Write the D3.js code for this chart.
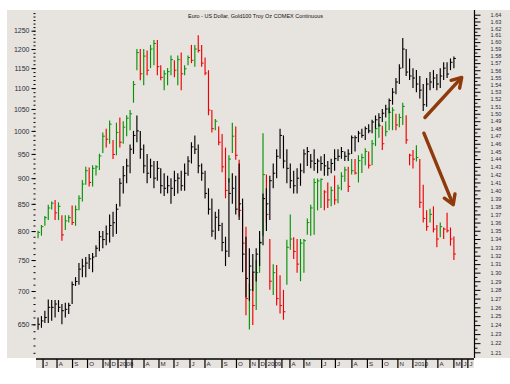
<!DOCTYPE html>
<html>
<head>
<meta charset="utf-8">
<script src="https://cdn.jsdelivr.net/npm/d3@7"></script>
<style>
  body { margin: 0; background: #fff; }
  svg { display: block; font-family: "Liberation Sans", Arial, sans-serif; }
</style>
</head>
<body>
<svg width="510" height="384"></svg>
<script>
// weekly gold bars (left axis)
const goldHigh = [660,662,670,687,686,686,686,680,682,682,715,722,745,752,755,760,762,775,800,800,
  810,830,835,850,900,925,940,970,1000,1035,1000,970,950,940,935,935,920,910,905,900,
  915,910,915,930,945,975,990,970,930,915,880,860,835,840,815,790,900,910,905,930,
  860,790,770,760,770,800,870,880,905,930,960,1005,990,960,930,915,920,930,960,965,
  950,960,940,945,950,935,940,960,960,965,955,960,990,990,1000,1005,1010,1015,1025,1035,
  1040,1050,1060,1075,1100,1125,1160,1230,1200,1175,1150,1145,1130,1110,1125,1140,1145,1135,1150,1165,
  1165,1175,1180]
const goldLow = [642,645,652,652,655,660,668,650,660,665,680,708,710,722,722,735,730,755,765,770,
  775,780,790,795,845,870,890,910,950,975,940,910,890,900,880,895,870,865,870,850,
  865,870,875,875,905,930,950,910,895,860,830,790,785,800,765,740,755,850,830,820,
  730,690,685,700,715,740,775,800,820,880,900,940,920,890,880,870,870,885,910,925,
  920,915,910,915,905,905,910,915,935,940,935,935,950,955,975,985,980,995,995,1005,
  1010,1020,1030,1040,1060,1085,1110,1150,1130,1120,1100,1090,1075,1045,1055,1095,1100,1095,1100,1120,
  1125,1145,1150]
const goldClose = [650,655,660,675,675,680,675,670,672,678,710,715,735,740,745,752,755,770,790,785,
  795,810,815,840,890,905,925,960,990,1000,960,925,910,925,900,920,885,880,885,880,
  895,900,885,910,935,965,960,925,910,870,840,800,825,810,780,765,870,880,840,850,
  760,720,740,730,760,780,860,850,895,910,945,990,935,920,895,885,900,915,950,955,
  935,930,935,930,925,920,930,940,945,955,945,950,985,985,995,990,1005,1000,1020,1025,
  1030,1040,1050,1070,1090,1115,1150,1200,1140,1130,1125,1110,1095,1060,1110,1115,1125,1110,1130,1150,
  1135,1165,1175]

// weekly euro / dollar bars (right axis)
const eurHigh = [1.350,1.357,1.368,1.382,1.386,1.388,1.385,1.369,1.369,1.369,1.381,1.381,1.394,1.413,1.430,1.429,1.432,1.432,1.447,1.475,
  1.480,1.491,1.465,1.488,1.495,1.490,1.498,1.505,1.545,1.590,1.590,1.590,1.588,1.596,1.603,1.603,1.567,1.560,1.563,1.581,
  1.574,1.581,1.585,1.567,1.581,1.596,1.596,1.610,1.596,1.578,1.560,1.505,1.493,1.483,1.473,1.455,1.445,1.488,1.483,1.439,
  1.380,1.355,1.287,1.300,1.315,1.340,1.474,1.420,1.340,1.310,1.309,1.297,1.280,1.339,1.370,1.342,1.340,1.340,1.340,1.365,
  1.382,1.415,1.415,1.415,1.400,1.410,1.405,1.419,1.407,1.423,1.430,1.430,1.440,1.440,1.445,1.447,1.454,1.450,1.465,1.484,
  1.487,1.484,1.490,1.508,1.509,1.500,1.500,1.515,1.498,1.447,1.452,1.458,1.440,1.407,1.375,1.377,1.380,1.357,1.360,1.354,
  1.372,1.354,1.343]
const eurLow = [1.341,1.344,1.356,1.363,1.376,1.363,1.363,1.338,1.351,1.360,1.357,1.356,1.375,1.386,1.407,1.405,1.405,1.419,1.426,1.448,
  1.455,1.460,1.440,1.445,1.455,1.460,1.470,1.478,1.515,1.560,1.546,1.539,1.553,1.563,1.567,1.553,1.546,1.532,1.539,1.553,
  1.550,1.539,1.532,1.553,1.567,1.570,1.565,1.585,1.565,1.553,1.498,1.475,1.478,1.458,1.423,1.390,1.410,1.448,1.439,1.367,
  1.327,1.251,1.235,1.240,1.257,1.300,1.344,1.360,1.280,1.274,1.262,1.253,1.246,1.286,1.327,1.316,1.300,1.290,1.300,1.345,
  1.344,1.345,1.375,1.378,1.375,1.378,1.380,1.382,1.384,1.400,1.411,1.398,1.420,1.420,1.410,1.422,1.432,1.428,1.432,1.457,
  1.468,1.452,1.470,1.478,1.478,1.478,1.482,1.485,1.460,1.432,1.428,1.437,1.378,1.360,1.350,1.360,1.348,1.330,1.342,1.340,
  1.348,1.332,1.315]
const eurClose = [1.348,1.355,1.366,1.378,1.384,1.372,1.380,1.345,1.362,1.366,1.360,1.376,1.390,1.408,1.425,1.410,1.428,1.430,1.444,1.470,
  1.466,1.486,1.446,1.475,1.462,1.482,1.494,1.500,1.540,1.585,1.555,1.580,1.560,1.590,1.598,1.565,1.550,1.555,1.558,1.575,
  1.560,1.575,1.555,1.562,1.578,1.574,1.590,1.588,1.570,1.556,1.505,1.480,1.490,1.462,1.430,1.400,1.440,1.470,1.445,1.375,
  1.335,1.270,1.280,1.262,1.300,1.335,1.420,1.370,1.290,1.300,1.270,1.262,1.255,1.330,1.340,1.325,1.310,1.335,1.338,1.360,
  1.378,1.410,1.412,1.414,1.398,1.388,1.400,1.388,1.403,1.418,1.426,1.405,1.425,1.422,1.438,1.442,1.450,1.432,1.460,1.480,
  1.484,1.460,1.476,1.502,1.505,1.485,1.495,1.510,1.465,1.445,1.440,1.442,1.385,1.365,1.355,1.370,1.352,1.340,1.355,1.352,
  1.350,1.340,1.322]

const goldTicks = [650,700,750,800,850,900,950,1000,1050,1100,1150,1200,1250]
const eurTicks = [1.21,1.22,1.23,1.24,1.25,1.26,1.27,1.28,1.29,1.30,1.31,1.32,1.33,1.34,1.35,1.36,1.37,1.38,1.39,1.40,
  1.41,1.42,1.43,1.44,1.45,1.46,1.47,1.48,1.49,1.50,1.51,1.52,1.53,1.54,1.55,1.56,1.57,1.58,1.59,1.60,1.61,1.62,1.63,1.64]

// month ticks, placed in bar units (winter weeks are missing from the series)
const monthLabels = ['J','A','S','O','N','D','2008','','','A','M','J','J','A','S','O','N','D','2009','','',
  'A','M','J','J','A','S','O','N','2010','','A','M','J','J']
const monthPos = [1.47,5.57,10.12,14.52,19.06,21.11,23.46,25.81,27.57,31.09,35.48,39.88,44.57,48.97,53.96,58.21,62.17,64.81,
  66.86,69.5,71.55,73.9,78.0,83.2,87.24,92.08,96.63,101.03,105.57,109.97,113.78,117.3,122.0,124.34,126.1]

// trend arrows: [bar, euro] start and end
const arrows = [
  {from: [113.5, 1.495], to: [124.3, 1.550]},
  {from: [113.2, 1.474], to: [121.8, 1.382]}
]

const title = 'Euro - US Dollar, Gold100 Troy Oz  COMEX Continuous'

const bg = '#e7e3df'
const upColor = '#079307'
const downColor = '#f00000'
const textColor = '#2b2b3a'

const svg = d3.select('svg')

// panel background and bottom axis strip
svg.append('rect')
    .attr('x', 7).attr('y', 10)
    .attr('width', 503).attr('height', 348)
    .attr('fill', bg)
svg.append('rect')
    .attr('x', 36).attr('y', 358)
    .attr('width', 438).attr('height', 10)
    .attr('fill', bg)

let xScale = d3.scaleLinear()
                .domain([-0.6, 127.9])
                .range([36, 474])

let yGold = d3.scaleLog()
                .domain([650, 1250])
                .range([324.3, 30.7])

let yEur = d3.scaleLog()
                .domain([1.21, 1.64])
                .range([352.3, 14.7])

// title
svg.append('text')
    .attr('x', 188)
    .attr('y', 17.5)
    .attr('textLength', 135)
    .attr('lengthAdjust', 'spacingAndGlyphs')
    .style('font-size', '6px')
    .attr('fill', '#111')
    .text(title)

// left (gold) axis
let goldMinor = d3.range(610, 1310, 10)
svg.append('g')
    .attr('transform', 'translate(35.5, 0)')
    .call(d3.axisLeft(yGold).tickValues(goldMinor).tickSize(2).tickFormat(''))
    .call(g => g.select('.domain').remove())
svg.append('g')
    .attr('transform', 'translate(35.5, 0)')
    .call(d3.axisLeft(yGold).tickValues(goldTicks).tickSize(4).tickPadding(2).tickFormat(d3.format('d')))
    .call(g => g.select('.domain').remove())
    .call(g => g.selectAll('text').style('font-size', '7px').attr('fill', textColor)
      .style('font-family', '"Liberation Sans", Arial, sans-serif'))

// right (euro) axis
let eurMinor = eurTicks.slice(0, -1).map(d => d + 0.005)
svg.append('g')
    .attr('transform', 'translate(474.5, 0)')
    .call(d3.axisRight(yEur).tickValues(eurMinor).tickSize(3).tickFormat(''))
    .call(g => g.select('.domain').remove())
svg.append('g')
    .attr('transform', 'translate(474.5, 0)')
    .call(d3.axisRight(yEur).tickValues(eurTicks).tickSize(6).tickPadding(10).tickFormat(d3.format('.2f')))
    .call(g => g.select('.domain').remove())
    .call(g => g.selectAll('text').style('font-size', '5.6px').attr('fill', textColor)
      .style('font-family', '"Liberation Sans", Arial, sans-serif'))
svg.append('line')
    .attr('x1', 474.5).attr('x2', 474.5)
    .attr('y1', 10).attr('y2', 358)
    .attr('stroke', '#000').attr('stroke-width', 1.2)

// bottom month axis
svg.append('line')
    .attr('x1', 36).attr('x2', 474)
    .attr('y1', 359).attr('y2', 359)
    .attr('stroke', '#000').attr('stroke-width', 1.3)
svg.append('g')
  .selectAll('text')
  .data(monthPos)
  .join('text')
    .attr('x', d => xScale(d) + 1.6)
    .attr('y', 365.6)
    .style('font-size', '6.2px')
    .attr('fill', textColor)
    .text((d, i) => monthLabels[i])
svg.append('g')
  .selectAll('line')
  .data(monthPos)
  .join('line')
    .attr('x1', d => xScale(d)).attr('x2', d => xScale(d))
    .attr('y1', 359).attr('y2', 368)
    .attr('stroke', '#000').attr('stroke-width', 1.2)

// OHLC style bars: high-low line and close tick
function drawBars(high, low, close, y, colorOf) {
  let g = svg.append('g')
  let bars = g.selectAll('g')
    .data(d3.range(high.length))
    .join('g')
      .attr('stroke', colorOf)
      .attr('stroke-width', 1.15)
  bars.append('line')
      .attr('x1', i => xScale(i)).attr('x2', i => xScale(i))
      .attr('y1', i => y(high[i])).attr('y2', i => y(low[i]))
  bars.append('line')
      .attr('x1', i => xScale(i)).attr('x2', i => xScale(i) + 2)
      .attr('y1', i => y(close[i])).attr('y2', i => y(close[i]))
      .attr('stroke-width', 1)
}

drawBars(eurHigh, eurLow, eurClose, yEur,
  i => (i === 0 || eurClose[i] >= eurClose[i - 1]) ? upColor : downColor)
drawBars(goldHigh, goldLow, goldClose, yGold, () => '#000')

// brown trend arrows
let arrowG = svg.append('g')
    .attr('stroke', '#8e3a0c')
    .attr('stroke-width', 3.4)
    .attr('stroke-linecap', 'round')
    .attr('fill', 'none')
arrows.forEach(a => {
  let x1 = xScale(a.from[0]), y1 = yEur(a.from[1])
  let x2 = xScale(a.to[0]), y2 = yEur(a.to[1])
  let ang = Math.atan2(y2 - y1, x2 - x1)
  let len = 11, spread = 0.55
  arrowG.append('line')
      .attr('x1', x1).attr('y1', y1)
      .attr('x2', x2 - Math.cos(ang) * 2).attr('y2', y2 - Math.sin(ang) * 2)
  arrowG.append('path')
      .attr('stroke-linejoin', 'round')
      .attr('d', d3.line()([
        [x2 - len * Math.cos(ang - spread), y2 - len * Math.sin(ang - spread)],
        [x2, y2],
        [x2 - len * Math.cos(ang + spread), y2 - len * Math.sin(ang + spread)]
      ]))
})
</script>
</body>
</html>
